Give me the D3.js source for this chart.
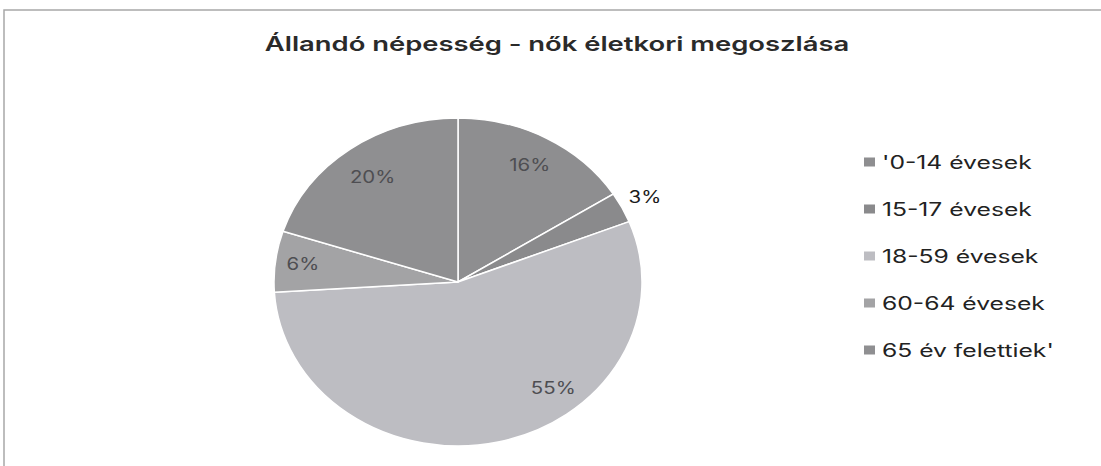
<!DOCTYPE html>
<html>
<head>
<meta charset="utf-8">
<script src="https://cdn.jsdelivr.net/npm/d3@7"></script>
<style>
  body { margin: 0; background: #fff; }
  svg { display: block; }
  text { font-family: Inter, "Noto Sans", sans-serif; }
</style>
</head>
<body>
<svg width="1101" height="466"></svg>
<script>
const title = 'Állandó népesség - nők életkori megoszlása'
const categories = ["'0-14 évesek", '15-17 évesek', '18-59 évesek', '60-64 évesek', "65 év felettiek'"]
const values = [16, 3, 55, 6, 20]
const colors = ['#8e8e90', '#8a8a8c', '#bdbdc2', '#a3a3a5', '#8f8f91']

const width = 1101
const height = 466
const center = { x: 458, y: 282 }
const rx = 184
const ry = 164
// the scan is stretched sideways, text too
const stretch = 1.37

const svg = d3.select('svg')

// frame (cropped at right and bottom)
svg.append('rect')
  .attr('x', 4)
  .attr('y', 10)
  .attr('width', width + 20)
  .attr('height', height + 20)
  .attr('fill', 'none')
  .attr('stroke', '#a8a8a8')
  .attr('stroke-width', 1.5)

svg.append('text')
  .attr('transform', `translate(557,51) scale(${stretch},1)`)
  .attr('text-anchor', 'middle')
  .style('font-size', '20px')
  .style('font-weight', 600)
  .attr('fill', '#2a2a2a')
  .text(title)

const data = categories.map((c, i) => ({ name: c, value: values[i], color: colors[i] }))

const pie = d3.pie()
  .sort(null)
  .value(d => d.value)

const arcs = pie(data)

const arc = d3.arc()
  .innerRadius(0)
  .outerRadius(1)

const pieG = svg.append('g')
  .attr('transform', `translate(${center.x},${center.y}) scale(${rx},${ry})`)

pieG.selectAll('path')
  .data(arcs)
  .enter().append('path')
  .attr('d', arc)
  .attr('fill', d => d.data.color)
  .attr('stroke', '#fff')
  .attr('stroke-width', 1.5)
  .attr('vector-effect', 'non-scaling-stroke')

// labels: radius as share of the pie, plus angle shift (best fit placement)
const labelRadius = [0.81, 1.14, 0.83, 0.85, 0.79]
const labelShift = [0, 0, -26, 0, 0]

function labelPos(d, i) {
  const a = (d.startAngle + d.endAngle) / 2 + labelShift[i] * Math.PI / 180
  return [center.x + Math.sin(a) * rx * labelRadius[i], center.y - Math.cos(a) * ry * labelRadius[i]]
}

svg.append('g')
  .selectAll('text')
  .data(arcs)
  .enter().append('text')
  .attr('transform', (d, i) => `translate(${labelPos(d, i)}) scale(1.2,1)`)
  .attr('text-anchor', 'middle')
  .attr('dominant-baseline', 'central')
  .style('font-size', '17px')
  .attr('fill', (d, i) => i === 1 ? '#1a1a1a' : '#4e4e52')
  .text(d => d.data.value + '%')

// legend
const legendY = d3.scalePoint()
  .domain(categories)
  .range([162, 350])

const legend = svg.append('g')
  .selectAll('g')
  .data(data)
  .enter().append('g')
  .attr('transform', d => `translate(864,${legendY(d.name)})`)

legend.append('rect')
  .attr('x', 0)
  .attr('y', -4.5)
  .attr('width', 11)
  .attr('height', 9)
  .attr('fill', d => d.color)

legend.append('text')
  .attr('transform', `translate(18,0) scale(${stretch},1)`)
  .attr('dominant-baseline', 'central')
  .style('font-size', '18px')
  .attr('fill', '#222')
  .text(d => d.name)
</script>
</body>
</html>
